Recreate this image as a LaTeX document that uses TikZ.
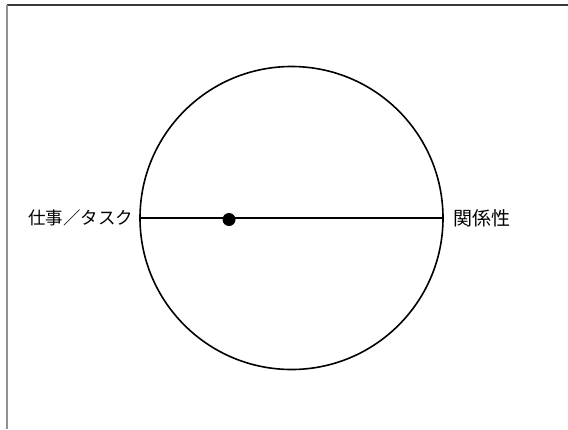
\documentclass[tikz,border=0pt]{standalone}
\usepackage{fontspec}
\newfontfamily\cjk{Noto Sans CJK JP}
\begin{document}
\begin{tikzpicture}[x=1pt,y=-1pt,
  lbl/.style={font=\cjk\fontsize{17.5}{20}\selectfont, inner sep=0pt},
  ring/.style={draw=black, line width=1.6pt},
  axis/.style={draw=black, line width=1.6pt}]
\useasboundingbox (0,0) rectangle (568,429);
\fill[white] (0,0) rectangle (568,429);
\draw[line width=2pt, draw={rgb,255:red,55;green,55;blue,55}] (6.5,4.5) coordinate (tl) -- (568,4.5) coordinate (tr);
\draw[line width=2pt, draw={rgb,255:red,145;green,145;blue,145}] (tl) -- (6.5,429) coordinate (bl);
\node[circle, ring, minimum size=303pt, inner sep=0pt] (c) at (291.5,218) {};
\draw[axis] (c.west) -- (c.east);
\node[circle, fill=black, minimum size=13pt, inner sep=0pt] (dot) at (229,219.5) {};
\node[lbl, anchor=east] (task) at ([xshift=-6pt]c.west) {仕事／タスク};
\node[lbl, anchor=west, font=\cjk\fontsize{19}{22}\selectfont] (rel) at ([xshift=9pt]c.east) {関係性};
\end{tikzpicture}
\end{document}
